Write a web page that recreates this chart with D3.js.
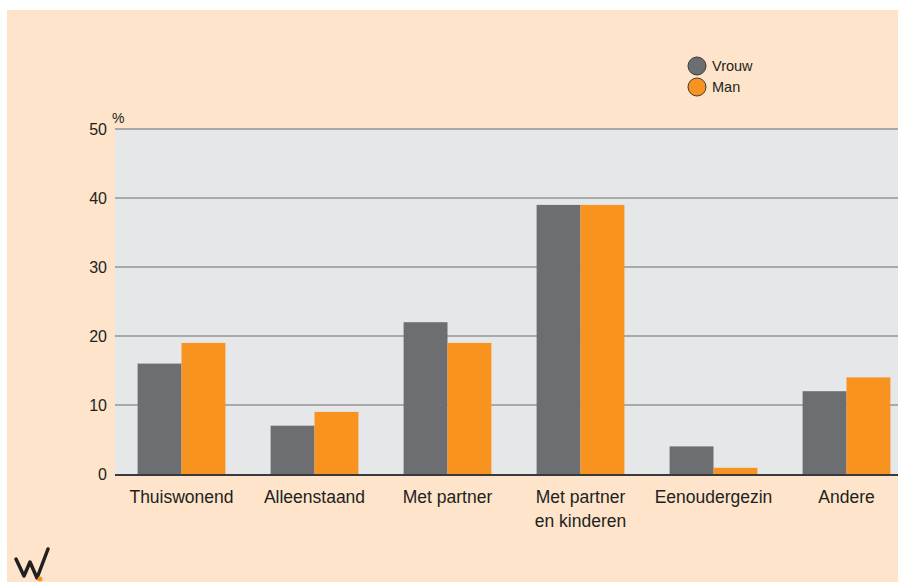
<!DOCTYPE html>
<html lang="nl">
<head>
<meta charset="UTF-8">
<script src="https://d3js.org/d3.v7.min.js"></script>
<style>
  body { margin: 0; background: #fff; font-family: Arial, "Liberation Sans", sans-serif; }
  svg { display: block; }
</style>
</head>
<body>
<script>
// categorieën en waarden (%)
const categories = [["Thuiswonend"], ["Alleenstaand"], ["Met partner"], ["Met partner", "en kinderen"], ["Eenoudergezin"], ["Andere"]];
const vrouw = [16, 7, 22, 39, 4, 12];
const man = [19, 9, 19, 39, 0.9, 14];
const series = ["Vrouw", "Man"];
const colors = ["#6d6e71", "#f7931e"];
const yTicks = [0, 10, 20, 30, 40, 50];

const width = 900, height = 582;
const plot = { left: 115, right: 898, top: 129, bottom: 474 };

const svg = d3.select("body").append("svg")
    .attr("width", width)
    .attr("height", height);

// achtergrond
svg.append("rect").attr("x", 7).attr("y", 10).attr("width", 891).attr("height", 572).attr("fill", "#fde4ca");
svg.append("rect").attr("x", plot.left).attr("y", plot.top)
    .attr("width", plot.right - plot.left).attr("height", plot.bottom - plot.top)
    .attr("fill", "#e6e7e9");

svg.append("clipPath").attr("id", "clip")
  .append("rect").attr("x", plot.left).attr("y", plot.top - 2)
    .attr("width", plot.right - plot.left).attr("height", plot.bottom - plot.top + 4);

const x = d3.scaleBand().domain(d3.range(categories.length))
    .range([plot.left, plot.left + 133 * categories.length])
    .paddingInner(0.34).paddingOuter(0.17);
const xSub = d3.scaleBand().domain(series).range([0, x.bandwidth()]);
const y = d3.scaleLinear().domain([0, 50]).range([plot.bottom, plot.top]);

const g = svg.append("g").attr("clip-path", "url(#clip)");

// rasterlijnen
g.selectAll("line.grid").data(yTicks.filter(d => d > 0)).enter().append("line")
    .attr("x1", plot.left).attr("x2", plot.right)
    .attr("y1", d => y(d)).attr("y2", d => y(d))
    .attr("stroke", "#939598").attr("stroke-width", 1.5);

// balken
const data = categories.map((c, i) => [
  { s: "Vrouw", v: vrouw[i], i },
  { s: "Man", v: man[i], i }
]);
g.selectAll("g.grp").data(data).enter().append("g")
    .attr("transform", (d, i) => `translate(${x(i)},0)`)
  .selectAll("rect").data(d => d).enter().append("rect")
    .attr("x", d => xSub(d.s))
    .attr("width", xSub.bandwidth())
    .attr("y", d => y(d.v))
    .attr("height", d => y(0) - y(d.v))
    .attr("fill", d => colors[series.indexOf(d.s)]);

// nul-lijn
svg.append("line").attr("x1", plot.left).attr("x2", plot.right)
    .attr("y1", y(0) + 1).attr("y2", y(0) + 1)
    .attr("stroke", "#3a3a3c").attr("stroke-width", 2);

// y-as labels
svg.append("g").selectAll("text").data(yTicks).enter().append("text")
    .attr("x", 107).attr("y", d => y(d) + 6)
    .attr("text-anchor", "end")
    .attr("font-size", 16).attr("fill", "#231f20")
    .text(d => d);
svg.append("text").attr("x", 112).attr("y", 123)
    .attr("font-size", 14).attr("fill", "#231f20").text("%");

// x-as labels
svg.append("g").selectAll("text").data(categories).enter().append("text")
    .attr("x", (d, i) => x(i) + x.bandwidth() / 2)
    .attr("y", 503)
    .attr("text-anchor", "middle")
    .attr("font-size", 17.5).attr("fill", "#231f20")
  .selectAll("tspan").data(d => d).enter().append("tspan")
    .attr("x", function () { return this.parentNode.getAttribute("x"); })
    .attr("dy", (d, j) => j ? 24 : 0)
    .text(d => d);

// legenda
const leg = svg.append("g").selectAll("g").data(series).enter().append("g")
    .attr("transform", (d, i) => `translate(697,${66 + i * 21})`);
leg.append("circle").attr("r", 9)
    .attr("fill", (d, i) => colors[i])
    .attr("stroke", "#3a3a3c").attr("stroke-width", 1);
leg.append("text").attr("x", 15).attr("y", 5)
    .attr("font-size", 14.5).attr("fill", "#231f20")
    .text(d => d);

// logo
svg.append("path")
    .attr("d", "M16,559 L24,576 L30,562 L37,578 L48,549")
    .attr("fill", "none").attr("stroke", "#231f20")
    .attr("stroke-width", 3.5).attr("stroke-linejoin", "round").attr("stroke-linecap", "round");
svg.append("circle").attr("cx", 40).attr("cy", 579).attr("r", 2.5).attr("fill", "#f7931e");
</script>
</body>
</html>
